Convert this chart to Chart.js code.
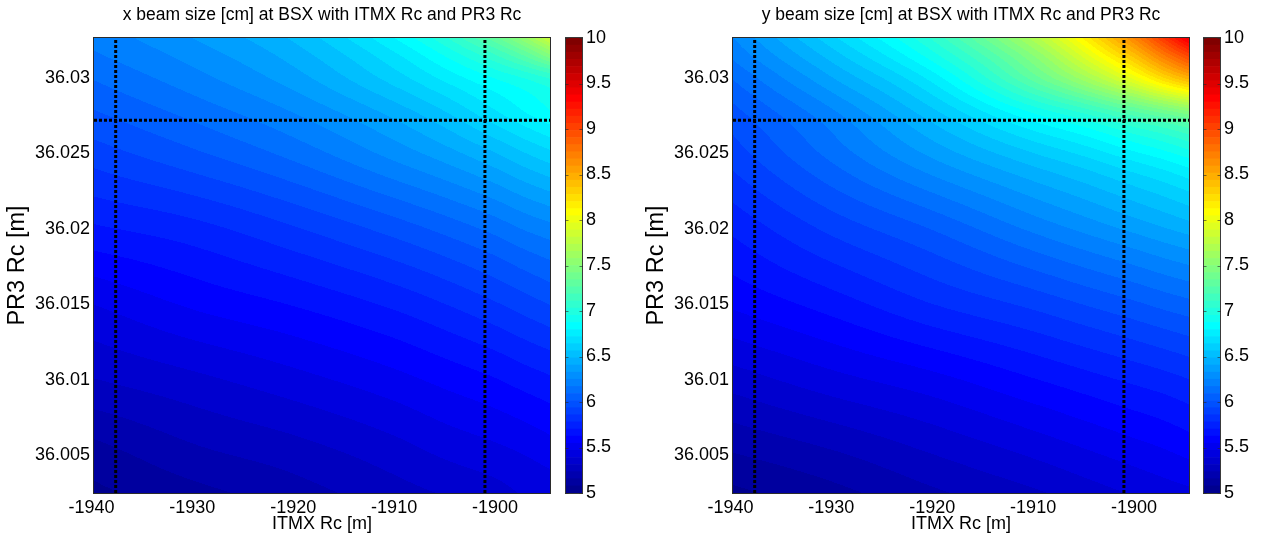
<!DOCTYPE html>
<html><head><meta charset="utf-8">
<script src="https://cdn.jsdelivr.net/npm/chart.js@4/dist/chart.umd.min.js"></script>
<style>
html,body{margin:0;padding:0;background:#fff;width:1263px;height:543px;overflow:hidden;}
.c{position:absolute;top:0;}
</style></head><body>
<canvas id="p1" class="c" style="left:0px" width="632" height="543"></canvas>
<canvas id="p2" class="c" style="left:639px" width="624" height="543"></canvas>
<canvas id="cb1" class="c" style="left:565px" width="60" height="543"></canvas>
<canvas id="cb2" class="c" style="left:1203px" width="60" height="543"></canvas>
<script>
// ---- axis ranges and ticks ----
const xRange = [-1939.75, -1894.55];          // ITMX Rc [m]
const yRange = [36.00248, 36.03265];          // PR3 Rc [m]
const xTicks = [-1940, -1930, -1920, -1910, -1900];
const yTicks = [36.005, 36.01, 36.015, 36.02, 36.025, 36.03];
const cLim = [5, 10];
const cbTicks = [5, 5.5, 6, 6.5, 7, 7.5, 8, 8.5, 9, 9.5, 10];
// nominal design values (dotted lines)
const itmxMarks = [-1937.6, -1901.0];
const pr3Mark = 36.0272;

const gridX = [-1939.75, -1930, -1920, -1910, -1905, -1900, -1897, -1894.55];
const gridY = [36.0025, 36.005, 36.01, 36.015, 36.02, 36.025, 36.0275, 36.03, 36.0315, 36.0327];
// x beam size [cm]; one row per gridY value (bottom to top), one column per gridX
const xBeam = [
  [5.06, 5.13, 5.20, 5.28, 5.32, 5.36, 5.40, 5.42],
  [5.12, 5.21, 5.27, 5.35, 5.40, 5.44, 5.47, 5.50],
  [5.31, 5.37, 5.44, 5.52, 5.57, 5.62, 5.66, 5.69],
  [5.47, 5.56, 5.63, 5.72, 5.78, 5.85, 5.90, 5.94],
  [5.69, 5.75, 5.85, 5.97, 6.04, 6.12, 6.18, 6.22],
  [5.90, 6.00, 6.12, 6.28, 6.37, 6.48, 6.56, 6.62],
  [6.00, 6.11, 6.24, 6.42, 6.54, 6.69, 6.78, 6.85],
  [6.10, 6.22, 6.37, 6.60, 6.74, 6.88, 6.96, 7.04],
  [6.16, 6.28, 6.44, 6.70, 6.88, 7.10, 7.28, 7.48],
  [6.20, 6.33, 6.50, 6.80, 7.02, 7.33, 7.58, 7.85]
];
// y beam size [cm]
const yBeam = [
  [5.06, 5.13, 5.22, 5.30, 5.35, 5.40, 5.43, 5.45],
  [5.15, 5.22, 5.31, 5.40, 5.45, 5.50, 5.53, 5.56],
  [5.35, 5.44, 5.52, 5.62, 5.67, 5.72, 5.75, 5.78],
  [5.56, 5.66, 5.78, 5.88, 5.94, 6.00, 6.04, 6.07],
  [5.72, 5.88, 6.02, 6.19, 6.27, 6.35, 6.40, 6.44],
  [5.90, 6.12, 6.35, 6.56, 6.66, 6.78, 6.85, 6.92],
  [5.98, 6.22, 6.52, 6.85, 7.00, 7.19, 7.30, 7.40],
  [6.10, 6.40, 6.75, 7.30, 7.62, 8.00, 8.28, 8.48],
  [6.19, 6.52, 6.92, 7.50, 7.92, 8.40, 8.75, 9.02],
  [6.25, 6.62, 7.05, 7.70, 8.15, 8.70, 9.10, 9.45]
];

const FONT = "'Liberation Sans', Arial, Helvetica, sans-serif";

function jet64(i) {
  const k = i + 1; let r = 0, g = 0, b = 0;
  if (k <= 8) { b = 0.5 + k / 16; }
  else if (k <= 24) { g = (k - 8) / 16; b = 1; }
  else if (k <= 40) { r = (k - 24) / 16; g = 1; b = 1 - (k - 24) / 16; }
  else if (k <= 56) { r = 1; g = 1 - (k - 40) / 16; }
  else { r = 1 - (k - 56) / 16; }
  return [Math.round(r * 255), Math.round(g * 255), Math.round(b * 255)];
}
// smooth (cubic Hermite) evaluation of a 1-D sampled profile
function hermite(xs, vs, x) {
  const n = xs.length;
  let i = 0; while (i < n - 2 && x >= xs[i + 1]) i++;
  const h = xs[i + 1] - xs[i];
  let t = (x - xs[i]) / h; t = Math.max(0, Math.min(1, t));
  const d = k => (vs[k + 1] - vs[k]) / (xs[k + 1] - xs[k]);
  const m0 = i === 0 ? d(0) : (d(i - 1) + d(i)) / 2;
  const m1 = i === n - 2 ? d(n - 2) : (d(i) + d(i + 1)) / 2;
  const t2 = t * t, t3 = t2 * t;
  return (2 * t3 - 3 * t2 + 1) * vs[i] + (t3 - 2 * t2 + t) * h * m0 +
         (-2 * t3 + 3 * t2) * vs[i + 1] + (t3 - t2) * h * m1;
}

const heatPlugin = {
  id: 'heat',
  beforeDatasetsDraw(chart, args, opts) {
    const { ctx, chartArea: a, scales } = chart;
    const w = Math.round(a.right - a.left), h = Math.round(a.bottom - a.top);
    const off = document.createElement('canvas'); off.width = w; off.height = h;
    const octx = off.getContext('2d'); const img = octx.createImageData(w, h);
    const grid = opts.grid;
    const cols = [];
    for (let px = 0; px < w; px++) {
      const xv = scales.x.getValueForPixel(a.left + px + 0.5);
      cols.push(grid.map(row => hermite(gridX, row, xv)));
    }
    for (let py = 0; py < h; py++) {
      const yv = scales.y.getValueForPixel(a.top + py + 0.5);
      for (let px = 0; px < w; px++) {
        const v = hermite(gridY, cols[px], yv);
        let idx = Math.floor((v - cLim[0]) / (cLim[1] - cLim[0]) * 64);
        idx = Math.max(0, Math.min(63, idx));
        const c = jet64(idx); const o = (py * w + px) * 4;
        img.data[o] = c[0]; img.data[o + 1] = c[1]; img.data[o + 2] = c[2]; img.data[o + 3] = 255;
      }
    }
    octx.putImageData(img, 0, 0);
    ctx.drawImage(off, a.left, a.top);
  },
  afterDraw(chart) {
    const { ctx, chartArea: a } = chart;
    ctx.save(); ctx.strokeStyle = '#2b2b2b'; ctx.lineWidth = 1;
    ctx.strokeRect(a.left - 0.5, a.top - 0.5, a.right - a.left + 1, a.bottom - a.top + 1);
    ctx.restore();
  }
};

function dotted(points) {
  return { data: points, showLine: true, borderColor: '#000', borderWidth: 3, borderDash: [3, 2],
           borderCapStyle: 'butt', pointRadius: 0, fill: false };
}

function makePlot(id, grid, title) {
  new Chart(document.getElementById(id), {
    type: 'scatter',
    data: {
      datasets: [
        dotted([{ x: itmxMarks[0], y: yRange[0] }, { x: itmxMarks[0], y: yRange[1] }]),
        dotted([{ x: itmxMarks[1], y: yRange[0] }, { x: itmxMarks[1], y: yRange[1] }]),
        dotted([{ x: xRange[0], y: pr3Mark }, { x: xRange[1], y: pr3Mark }])
      ]
    },
    options: {
      responsive: false, animation: false,
      layout: { padding: { left: 0, right: document.getElementById(id).width - 94 - 456, top: 0, bottom: 0 } },
      plugins: {
        legend: { display: false }, tooltip: { enabled: false },
        title: { display: true, text: title, color: '#000', fullSize: false,
                 font: { family: FONT, size: 17.5, weight: 'normal' }, padding: { top: 5, bottom: 12 } },
        heat: { grid: grid }
      },
      scales: {
        x: {
          type: 'linear', min: xRange[0], max: xRange[1],
          afterBuildTicks: s => { s.ticks = xTicks.map(v => ({ value: v })); },
          afterFit: s => { s.height = 50; },
          grid: { display: false, drawTicks: false }, border: { display: false },
          ticks: { color: '#000', font: { family: FONT, size: 18 }, padding: 4, maxRotation: 0, autoSkip: false,
                   callback: v => String(v) },
          title: { display: true, text: 'ITMX Rc [m]', color: '#000', font: { family: FONT, size: 18 },
                   padding: { top: 0, bottom: 8 } }
        },
        y: {
          type: 'linear', min: yRange[0], max: yRange[1],
          afterBuildTicks: s => { s.ticks = yTicks.map(v => ({ value: v })); },
          afterFit: s => { s.width = 94; },
          grid: { display: false, drawTicks: false }, border: { display: false },
          ticks: { color: '#000', font: { family: FONT, size: 18 }, padding: 4, autoSkip: false,
                   callback: v => String(v) },
          title: { display: true, text: 'PR3 Rc [m]', color: '#000', font: { family: FONT, size: 23.5 },
                   padding: { top: 3, bottom: 0 } }
        }
      }
    },
    plugins: [heatPlugin]
  });
}

const cbPlugin = {
  id: 'cbbox',
  afterDraw(chart) {
    const { ctx, chartArea: a, scales } = chart;
    ctx.save(); ctx.strokeStyle = '#3a3a3a'; ctx.lineWidth = 1;
    ctx.strokeRect(a.left + 0.5, a.top - 0.5, a.right - a.left - 1, a.bottom - a.top + 1);
    ctx.strokeStyle = 'rgba(40,40,40,0.6)';
    cbTicks.forEach(v => {
      const y = Math.round(scales.y.getPixelForValue(v)) + 0.5;
      ctx.beginPath(); ctx.moveTo(a.left, y); ctx.lineTo(a.left + 3.5, y);
      ctx.moveTo(a.right - 3.5, y); ctx.lineTo(a.right, y); ctx.stroke();
    });
    ctx.restore();
  }
};

function makeColorbar(id) {
  const n = 64, step = (cLim[1] - cLim[0]) / n;
  const ds = [];
  for (let i = 0; i < n; i++) {
    const c = jet64(i);
    ds.push({ data: [[cLim[0] + i * step, cLim[0] + (i + 1) * step]], backgroundColor: `rgb(${c[0]},${c[1]},${c[2]})`,
              borderWidth: 0, grouped: false, barPercentage: 1, categoryPercentage: 1 });
  }
  new Chart(document.getElementById(id), {
    type: 'bar',
    data: { labels: [''], datasets: ds },
    options: {
      responsive: false, animation: false,
      layout: { padding: { left: 0, right: 0, top: 38, bottom: 50 } },
      plugins: { legend: { display: false }, tooltip: { enabled: false } },
      scales: {
        x: { display: false },
        y: {
          position: 'right', min: cLim[0], max: cLim[1],
          afterBuildTicks: s => { s.ticks = cbTicks.map(v => ({ value: v })); },
          afterFit: s => { s.width = 42; },
          grid: { display: false, drawTicks: false }, border: { display: false },
          ticks: { color: '#000', font: { family: FONT, size: 18 }, padding: 3, autoSkip: false,
                   callback: v => String(v) }
        }
      }
    },
    plugins: [cbPlugin]
  });
}

makePlot('p1', xBeam, 'x beam size [cm] at BSX with ITMX Rc and PR3 Rc');
makePlot('p2', yBeam, 'y beam size [cm] at BSX with ITMX Rc and PR3 Rc');
makeColorbar('cb1');
makeColorbar('cb2');
</script>
</body></html>
